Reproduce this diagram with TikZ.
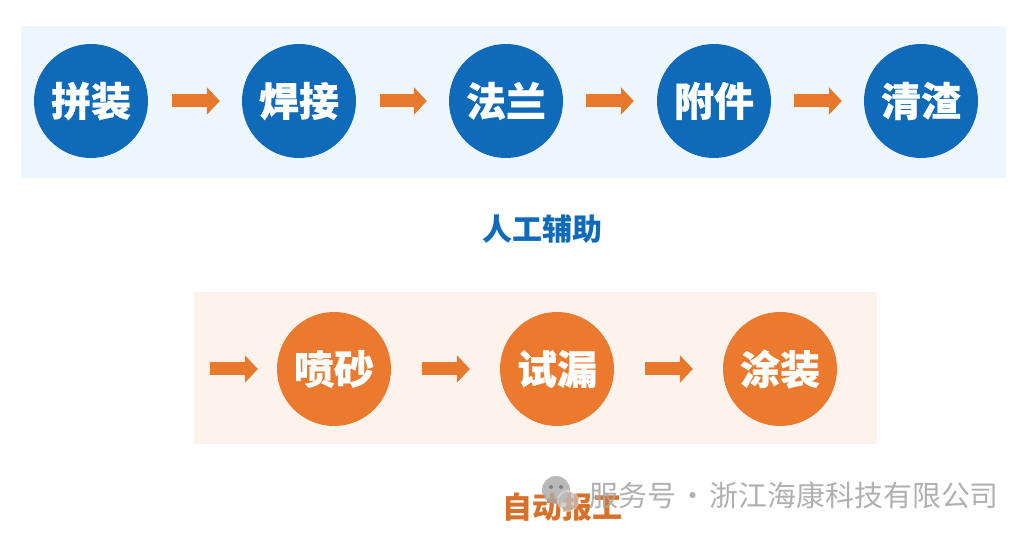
\documentclass[tikz,border=0pt]{standalone}
\usepackage{fontspec}
\usetikzlibrary{arrows.meta}
\newfontfamily\cjk[BoldFeatures={FakeBold=0.5}]{Noto Sans CJK SC}
\newfontfamily\cjkplain{Noto Sans CJK SC}
\newcommand{\lowered}[1]{\raisebox{-1.5pt}{#1}}
\definecolor{hkblue}{HTML}{0F6BBA}
\definecolor{hkorange}{HTML}{EC7A2E}
\definecolor{hkarrow}{HTML}{E8782C}
\definecolor{hkbluebg}{HTML}{EEF6FD}
\definecolor{hkorangebg}{HTML}{FDF3EC}
\definecolor{hkgray}{HTML}{A8A8A8}
\tikzset{
  stage/.style={circle,minimum size=114pt,inner sep=0pt,text=white,font=\cjk\bfseries\fontsize{40}{40}\selectfont},
  bluestage/.style={stage,fill=hkblue},
  orangestage/.style={stage,fill=hkorange},
  flow/.style={draw=hkarrow,line width=13pt,{Rectangle[length=3pt,width=13pt,sep=1pt]}-{Triangle[length=13pt,width=27pt]}},
  caption/.style={font=\cjkplain\bfseries\fontsize{30}{30}\selectfont,inner sep=0pt},
  wmark/.style={font=\cjkplain\fontsize{28.9}{29}\selectfont,text=hkgray,inner sep=0pt}
}
\begin{document}
\begin{tikzpicture}[x=1pt,y=-1pt]
\useasboundingbox (0,0) rectangle (1029,537);
\fill[white] (0,0) rectangle (1029,537);
\fill[hkbluebg] (21,26) rectangle (1006,178);
\fill[hkorangebg] (194,292) rectangle (877,444);
\node[bluestage] (a1) at (91,101) {\lowered{拼装}};
\node[bluestage] (a2) at (299,101) {\lowered{焊接}};
\node[bluestage] (a3) at (506,101) {\lowered{法兰}};
\node[bluestage] (a4) at (714,101) {\lowered{附件}};
\node[bluestage] (a5) at (921,101) {\lowered{清渣}};
\draw[flow,shorten <=23pt,shorten >=22pt] (a1) -- (a2);
\draw[flow,shorten <=23pt,shorten >=22pt] (a2) -- (a3);
\draw[flow,shorten <=22pt,shorten >=23pt] (a3) -- (a4);
\draw[flow,shorten <=22pt,shorten >=22pt] (a4) -- (a5);
\node[caption,text=hkblue] (c1) at (542,229) {人工辅助};
\coordinate (s) at (209,369);
\node[orangestage] (b1) at (334,369) {喷砂};
\node[orangestage] (b2) at (557,369) {试漏};
\node[orangestage] (b3) at (780,369) {涂装};
\draw[flow,shorten >=19pt] (s) -- (b1);
\draw[flow,shorten <=30pt,shorten >=30pt] (b1) -- (b2);
\draw[flow,shorten <=30pt,shorten >=30pt] (b2) -- (b3);
\node[caption,text=hkorange!92!black] (c2) at (562,507) {自动报工};
\fill[hkgray,opacity=.8] (556,490) circle (14pt);
\fill[white,opacity=.45] (568,501) circle (11pt);
\fill[hkgray,opacity=.55] (568,501) circle (9.5pt);
\fill[black!60,opacity=.7] (551,487) circle (2pt) (561,487) circle (2pt);
\node[wmark,anchor=west,opacity=.9] (w) at (589,495) {\spaceskip=2.5pt\relax 服务号 · 浙江海康科技有限公司};
\end{tikzpicture}
\end{document}
